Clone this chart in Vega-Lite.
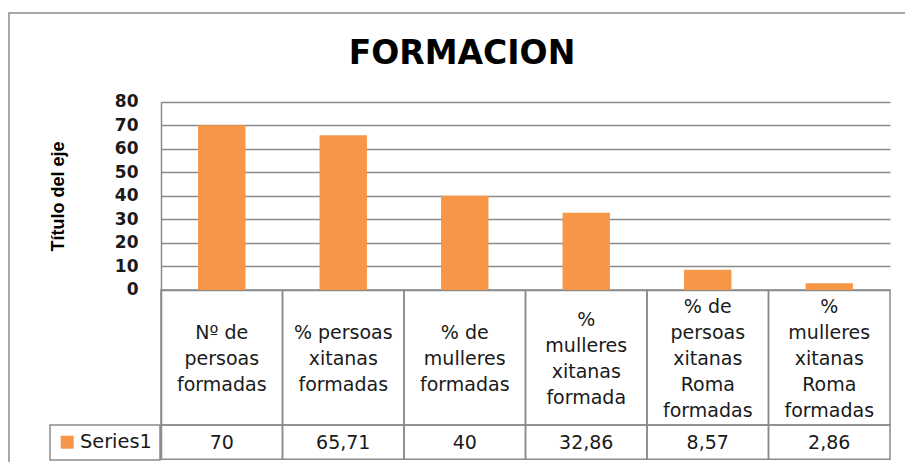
{
  "$schema": "https://vega.github.io/schema/vega-lite/v6.json",
  "width": 898,
  "height": 451,
  "autosize": {"type": "none"},
  "padding": {"left": 9, "top": 13, "right": -2, "bottom": -2},
  "background": "white",
  "title": {
    "text": "FORMACION",
    "font": "DejaVu Sans",
    "fontSize": 33,
    "fontWeight": "bold",
    "color": "#000000",
    "anchor": "middle",
    "frame": "group",
    "baseline": "alphabetic",
    "offset": -84,
    "dx": 4
  },
  "config": {
    "view": {"stroke": "#8a8a8a", "strokeWidth": 1.5},
    "locale": {"number": {"decimal": ",", "thousands": ".", "grouping": [3], "currency": ["", " €"]}},
    "legend": {"strokeColor": "#8a8a8a", "strokeWidth": 1.5}
  },
  "data": {
    "values": [
      {"cat": "Nº de\npersoas\nformadas", "value": 70},
      {"cat": "% persoas\nxitanas\nformadas", "value": 65.71},
      {"cat": "% de\nmulleres\nformadas", "value": 40},
      {"cat": "%\nmulleres\nxitanas\nformada", "value": 32.86},
      {"cat": "% de\npersoas\nxitanas\nRoma\nformadas", "value": 8.57},
      {"cat": "%\nmulleres\nxitanas\nRoma\nformadas", "value": 2.86}
    ]
  },
  "encoding": {
    "x": {
      "field": "cat",
      "type": "nominal",
      "sort": null,
      "axis": null,
      "scale": {"type": "band", "range": [152, 881], "paddingInner": 0, "paddingOuter": 0}
    }
  },
  "layer": [
    {
      "mark": {"type": "rect", "fill": null, "fillOpacity": 0, "stroke": "#8a8a8a", "strokeWidth": 1.5},
      "encoding": {
        "y": {
          "datum": 0,
          "type": "quantitative",
          "scale": {"domain": [-71.93, 80], "range": [446.3, 88.7], "zero": false, "nice": false},
          "axis": {
            "values": [0, 10, 20, 30, 40, 50, 60, 70, 80],
            "offset": -152,
            "domain": true,
            "domainColor": "#8a8a8a",
            "domainWidth": 1.5,
            "grid": true,
            "gridColor": "#8a8a8a",
            "gridWidth": 1.5,
            "ticks": false,
            "tickSize": 0,
            "labelPadding": 23,
            "labelFont": "DejaVu Sans",
            "labelFontSize": 17,
            "labelFontWeight": "bold",
            "labelColor": "#1a1a1a",
            "title": "Título del eje",
            "titleFont": "Liberation Sans",
            "titleFontSize": 18,
            "titleFontWeight": "bold",
            "titleColor": "#000000",
            "titleAngle": 270,
            "titleAlign": "center",
            "titleBaseline": "middle",
            "titleX": -103,
            "titleY": 183
          }
        },
        "y2": {"datum": -57.36}
      }
    },
    {
      "mark": {"type": "rect", "fill": null, "fillOpacity": 0, "stroke": "#8a8a8a", "strokeWidth": 1.5},
      "encoding": {
        "y": {"datum": -57.36, "type": "quantitative"},
        "y2": {"datum": -71.93}
      }
    },
    {
      "mark": {"type": "bar", "width": {"band": 0.39}},
      "encoding": {
        "y": {"field": "value", "type": "quantitative"},
        "y2": {"datum": 0},
        "color": {
          "datum": "Series1",
          "type": "nominal",
          "scale": {"range": ["#F79646"]},
          "legend": {
            "title": null,
            "orient": "none",
            "legendX": 41,
            "legendY": 412,
            "padding": 7.5,
            "symbolType": "square",
            "symbolSize": 169,
            "symbolStrokeWidth": 0,
            "labelFont": "DejaVu Sans",
            "labelFontSize": 19.4,
            "labelColor": "#1a1a1a",
            "labelOffset": 3
          }
        }
      }
    },
    {
      "transform": [{"filter": "length(split(datum.cat, '\\n')) == 3"}],
      "mark": {"type": "text", "font": "DejaVu Sans", "fontSize": 19, "color": "#1a1a1a", "lineBreak": "\n", "lineHeight": 26, "align": "center", "baseline": "middle"},
      "encoding": {
        "y": {"datum": -18.27, "type": "quantitative"},
        "text": {"field": "cat", "type": "nominal"}
      }
    },
    {
      "transform": [{"filter": "length(split(datum.cat, '\\n')) == 4"}],
      "mark": {"type": "text", "font": "DejaVu Sans", "fontSize": 19, "color": "#1a1a1a", "lineBreak": "\n", "lineHeight": 26, "align": "center", "baseline": "middle"},
      "encoding": {
        "y": {"datum": -12.75, "type": "quantitative"},
        "text": {"field": "cat", "type": "nominal"}
      }
    },
    {
      "transform": [{"filter": "length(split(datum.cat, '\\n')) == 5"}],
      "mark": {"type": "text", "font": "DejaVu Sans", "fontSize": 19, "color": "#1a1a1a", "lineBreak": "\n", "lineHeight": 26, "align": "center", "baseline": "middle"},
      "encoding": {
        "y": {"datum": -7.22, "type": "quantitative"},
        "text": {"field": "cat", "type": "nominal"}
      }
    },
    {
      "mark": {"type": "text", "font": "DejaVu Sans", "fontSize": 19, "color": "#1a1a1a", "align": "center", "baseline": "middle"},
      "encoding": {
        "y": {"datum": -64.8, "type": "quantitative"},
        "text": {"field": "value", "type": "quantitative", "format": ".2~f"}
      }
    }
  ]
}
